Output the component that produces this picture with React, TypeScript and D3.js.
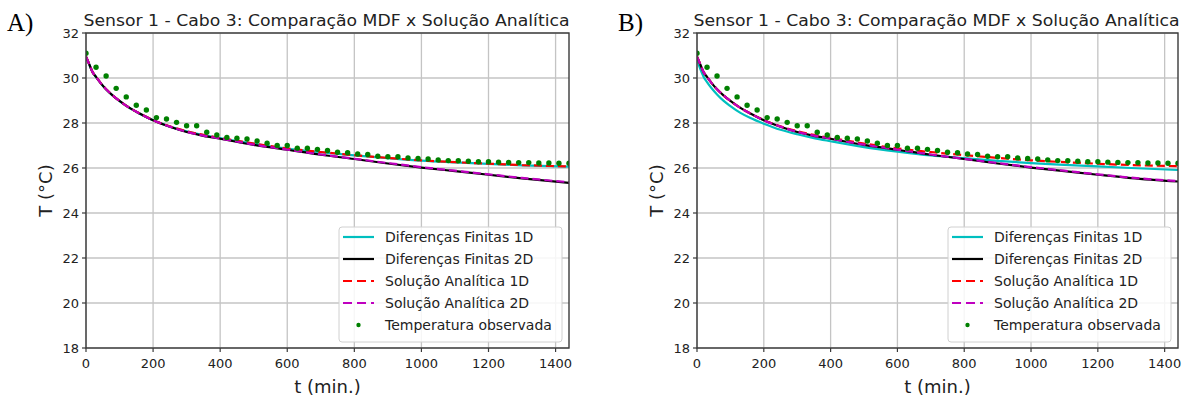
import React from 'react';
import * as d3 from 'd3';

// ---------- data ----------
const obsTimes = [0, 30, 60, 90, 120, 150, 180, 210, 240, 270, 300, 330, 360, 390, 420, 450, 480, 510, 540, 570, 600, 630, 660, 690, 720, 750, 780, 810, 840, 870, 900, 930, 960, 990, 1020, 1050, 1080, 1110, 1140, 1170, 1200, 1230, 1260, 1290, 1320, 1350, 1380, 1410, 1440];
const obsTemp = [31.1, 30.48, 30.09, 29.54, 29.16, 28.79, 28.58, 28.24, 28.18, 28.03, 27.88, 27.88, 27.59, 27.47, 27.36, 27.32, 27.29, 27.2, 27.1, 27.0, 27.0, 26.88, 26.88, 26.83, 26.78, 26.7, 26.68, 26.62, 26.6, 26.52, 26.5, 26.5, 26.45, 26.42, 26.4, 26.36, 26.33, 26.32, 26.3, 26.28, 26.28, 26.26, 26.25, 26.24, 26.24, 26.22, 26.22, 26.21, 26.21];

const curveTimes = [0, 5, 10, 20, 30, 45, 60, 80, 100, 130, 160, 200, 250, 300, 350, 400, 500, 600, 700, 800, 900, 1000, 1100, 1200, 1300, 1440];

// Panel A
const fd1dA = [30.94, 30.77, 30.59, 30.24, 30.04, 29.74, 29.49, 29.21, 28.97, 28.66, 28.41, 28.12, 27.84, 27.63, 27.46, 27.33, 27.08, 26.86, 26.7, 26.56, 26.44, 26.33, 26.25, 26.18, 26.12, 26.06];
const fd2dA = [30.95, 30.78, 30.6, 30.25, 30.05, 29.75, 29.5, 29.22, 28.98, 28.67, 28.42, 28.12, 27.83, 27.6, 27.43, 27.3, 27.03, 26.81, 26.59, 26.4, 26.2, 26.02, 25.86, 25.7, 25.54, 25.34];
const sa1dA = [30.95, 30.78, 30.6, 30.25, 30.05, 29.75, 29.5, 29.22, 28.98, 28.67, 28.42, 28.13, 27.85, 27.64, 27.47, 27.34, 27.09, 26.87, 26.71, 26.57, 26.45, 26.34, 26.26, 26.19, 26.13, 26.07];
const sa2dA = [30.95, 30.78, 30.6, 30.25, 30.05, 29.75, 29.5, 29.22, 28.98, 28.67, 28.42, 28.12, 27.84, 27.61, 27.44, 27.31, 27.04, 26.82, 26.6, 26.41, 26.22, 26.04, 25.88, 25.72, 25.56, 25.37];

// Panel B
const fd1dB = [30.85, 30.6, 30.4, 30.05, 29.82, 29.52, 29.27, 28.98, 28.75, 28.45, 28.22, 27.97, 27.7, 27.5, 27.33, 27.19, 26.93, 26.73, 26.56, 26.44, 26.32, 26.22, 26.14, 26.07, 26.0, 25.91];
const fd2dB = [30.95, 30.78, 30.6, 30.25, 30.05, 29.75, 29.5, 29.22, 28.98, 28.67, 28.42, 28.12, 27.83, 27.6, 27.43, 27.3, 27.03, 26.81, 26.59, 26.4, 26.2, 26.02, 25.86, 25.7, 25.55, 25.4];
const sa1dB = [30.95, 30.78, 30.6, 30.25, 30.05, 29.75, 29.5, 29.22, 28.98, 28.67, 28.42, 28.13, 27.85, 27.64, 27.47, 27.34, 27.09, 26.87, 26.71, 26.57, 26.45, 26.34, 26.26, 26.19, 26.13, 26.08];
const sa2dB = [30.95, 30.78, 30.6, 30.25, 30.05, 29.75, 29.5, 29.22, 28.98, 28.67, 28.42, 28.12, 27.84, 27.61, 27.44, 27.31, 27.04, 26.82, 26.6, 26.41, 26.22, 26.04, 25.88, 25.72, 25.57, 25.42];

const xTicks = [0, 200, 400, 600, 800, 1000, 1200, 1400];
const yTicks = [18, 20, 22, 24, 26, 28, 30, 32];
const legendLabels = ['Diferenças Finitas 1D', 'Diferenças Finitas 2D', 'Solução Analítica 1D', 'Solução Analítica 2D', 'Temperatura observada'];
const titleText = 'Sensor 1 - Cabo 3: Comparação MDF x Solução Analítica';

const CYAN = '#00bfbf';
const RED = '#ff0000';
const MAG = '#bf00bf';
const GREEN = '#008000';
const FONT = 'DejaVu Sans, sans-serif';
const TXT = '#222222';

type PanelProps = {
  id: string;
  left: number; right: number; top: number; bottom: number;
  label: string;
  fd1d: number[]; fd2d: number[]; sa1d: number[]; sa2d: number[];
};

function Panel({ id, left, right, top, bottom, label, fd1d, fd2d, sa1d, sa2d }: PanelProps) {
  const x = d3.scaleLinear().domain([0, 1440]).range([left, right]);
  const y = d3.scaleLinear().domain([18, 32]).range([bottom, top]);
  const line = d3.line<number>()
    .x((_, i) => x(curveTimes[i]))
    .y((d) => y(d))
    .curve(d3.curveMonotoneX);
  const cx = (left + right) / 2;
  const cy = (top + bottom) / 2;
  const lgRight = right - 7;
  const lgLeft = lgRight - 223;
  const lgTop = bottom - 121;
  const lgH = 115;
  const rowY = [10, 32, 54, 76, 98].map((d) => lgTop + d);
  const hx0 = lgLeft + 4;
  const hx1 = lgLeft + 35;
  const tx = lgLeft + 46;
  return (
    <g>
      <defs>
        <clipPath id={`clip-${id}`}>
          <rect x={left} y={top} width={right - left} height={bottom - top} />
        </clipPath>
      </defs>
      {/* panel letter */}
      <text x={left - 79} y={31} fontFamily="Times New Roman, Liberation Serif, serif" fontSize={25} fill="#000">{label}</text>
      {/* grid */}
      {xTicks.map((t) => (
        <line key={`gx${t}`} x1={x(t)} x2={x(t)} y1={top} y2={bottom} stroke="#c4c4c4" strokeWidth={1.3} />
      ))}
      {yTicks.map((t) => (
        <line key={`gy${t}`} x1={left} x2={right} y1={y(t)} y2={y(t)} stroke="#c4c4c4" strokeWidth={1.3} />
      ))}
      {/* series */}
      <g clipPath={`url(#clip-${id})`}>
        <path d={line(fd1d) || ''} fill="none" stroke={CYAN} strokeWidth={2.2} />
        <path d={line(fd2d) || ''} fill="none" stroke="#000" strokeWidth={2.2} />
        <path d={line(sa1d) || ''} fill="none" stroke={RED} strokeWidth={2.2} strokeDasharray="8 4" />
        <path d={line(sa2d) || ''} fill="none" stroke={MAG} strokeWidth={2.2} strokeDasharray="8 4" />
        {obsTemp.map((v, i) => (
          <circle key={`o${i}`} cx={x(obsTimes[i])} cy={y(v)} r={2.7} fill={GREEN} />
        ))}
      </g>
      {/* spines */}
      <rect x={left} y={top} width={right - left} height={bottom - top} fill="none" stroke="#3a3a3a" strokeWidth={1.4} />
      {/* ticks */}
      {xTicks.map((t) => (
        <g key={`xt${t}`}>
          <line x1={x(t)} x2={x(t)} y1={bottom} y2={bottom + 4} stroke="#3a3a3a" strokeWidth={1.2} />
          <text x={x(t)} y={bottom + 20} textAnchor="middle" fontFamily={FONT} fontSize={13} fill={TXT}>{t}</text>
        </g>
      ))}
      {yTicks.map((t) => (
        <g key={`yt${t}`}>
          <line x1={left - 4} x2={left} y1={y(t)} y2={y(t)} stroke="#3a3a3a" strokeWidth={1.2} />
          <text x={left - 7} y={y(t) + 5} textAnchor="end" fontFamily={FONT} fontSize={13} fill={TXT}>{t}</text>
        </g>
      ))}
      {/* title */}
      <text x={cx - 1} y={26} textAnchor="middle" fontFamily={FONT} fontSize={16.5} textLength={486} lengthAdjust="spacingAndGlyphs" fill={TXT}>{titleText}</text>
      {/* axis labels */}
      <text x={cx} y={393} textAnchor="middle" fontFamily={FONT} fontSize={18} fill={TXT}>t (min.)</text>
      <text transform={`translate(${left - 34},${cy}) rotate(-90)`} textAnchor="middle" fontFamily={FONT} fontSize={18} fill={TXT}>T (°C)</text>
      {/* legend */}
      <rect x={lgLeft} y={lgTop} width={223} height={lgH} rx={3} ry={3} fill="#ffffff" fillOpacity={0.85} stroke="#d0d0d0" strokeWidth={1} />
      <line x1={hx0} x2={hx1} y1={rowY[0]} y2={rowY[0]} stroke={CYAN} strokeWidth={2.2} />
      <line x1={hx0} x2={hx1} y1={rowY[1]} y2={rowY[1]} stroke="#000" strokeWidth={2.2} />
      <line x1={hx0} x2={hx1} y1={rowY[2]} y2={rowY[2]} stroke={RED} strokeWidth={2.2} strokeDasharray="9 5" />
      <line x1={hx0} x2={hx1} y1={rowY[3]} y2={rowY[3]} stroke={MAG} strokeWidth={2.2} strokeDasharray="9 5" />
      <circle cx={(hx0 + hx1) / 2} cy={rowY[4]} r={2.2} fill={GREEN} />
      {legendLabels.map((l, i) => (
        <text key={l} x={tx} y={rowY[i] + 5} fontFamily={FONT} fontSize={14} fill={TXT}>{l}</text>
      ))}
    </g>
  );
}

export default function App() {
  return (
    <svg width={1190} height={401} style={{ position: 'absolute', left: 0, top: 0, background: '#fff' }}>
      <rect x={0} y={0} width={1190} height={401} fill="#fff" />
      <Panel id="a" left={86} right={569} top={33} bottom={348} label="A)" fd1d={fd1dA} fd2d={fd2dA} sa1d={sa1dA} sa2d={sa2dA} />
      <Panel id="b" left={697} right={1178} top={33} bottom={348} label="B)" fd1d={fd1dB} fd2d={fd2dB} sa1d={sa1dB} sa2d={sa2dB} />
    </svg>
  );
}
